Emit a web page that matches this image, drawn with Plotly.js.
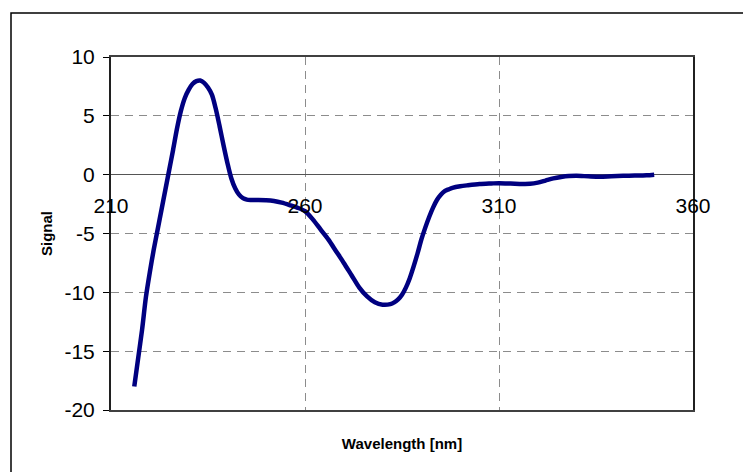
<!DOCTYPE html>
<html>
<head>
<meta charset="utf-8">
<script src="https://cdn.plot.ly/plotly-3.0.1.min.js"></script>
<style>html,body{margin:0;padding:0;background:#fff;}#chart{width:743px;height:472px;}</style>
</head>
<body>
<div id="chart"></div>
<script>
// Wavelength (nm)
const wavelength = [216,217,218,219,220,221,222,223,224,225,226,227,228,229,230,231,232,233,234,235,236,237,238,239,240,241,242,243,244,245,246,248,250,252,254,256,258,260,262,264,266,268,270,272,274,276,278,280,282,283,284,285,286,287,288,289,290,291,292,293,294,295,296,297,298,300,302,305,308,310,313,316,318,320,322,324,326,328,330,333,336,339,342,345,348,350];
// Signal
const signal = [-18.0,-15.6,-13.2,-10.4,-8.3,-6.4,-4.7,-3.0,-1.3,0.4,2.1,3.9,5.4,6.5,7.2,7.7,7.95,8.0,7.8,7.4,6.8,5.6,4.1,2.5,1.0,-0.3,-1.15,-1.7,-2.0,-2.12,-2.15,-2.15,-2.17,-2.24,-2.38,-2.58,-2.8,-3.1,-3.8,-4.65,-5.5,-6.5,-7.5,-8.55,-9.6,-10.35,-10.85,-11.05,-11.0,-10.85,-10.6,-10.2,-9.6,-8.8,-7.8,-6.7,-5.5,-4.5,-3.6,-2.8,-2.15,-1.7,-1.4,-1.25,-1.12,-0.98,-0.9,-0.8,-0.75,-0.72,-0.75,-0.79,-0.78,-0.68,-0.5,-0.32,-0.2,-0.12,-0.1,-0.14,-0.17,-0.13,-0.1,-0.08,-0.05,0.0];
const xTicks = [210,260,310,360];
const yTicks = [-20,-15,-10,-5,0,5,10];
const yTickText = ['-20','-15','-10','-5','0','5','10'];

const font = 'Arial, "Liberation Sans", sans-serif';

const traces = [{
  x: wavelength, y: signal, type: 'scatter', mode: 'lines',
  line: {color: '#000080', width: 4.5, shape: 'spline', smoothing: 0.8},
  showlegend: false, hoverinfo: 'skip'
}, {
  x: [xTicks[0], xTicks[xTicks.length-1]], y: [0, 0], xaxis: 'x2', yaxis: 'y',
  type: 'scatter', mode: 'lines', line: {width: 0, color: 'rgba(0,0,0,0)'},
  showlegend: false, hoverinfo: 'skip'
}];

const layout = {
  width: 743, height: 472,
  margin: {l: 111, r: 50, t: 57, b: 62},
  paper_bgcolor: '#fff', plot_bgcolor: '#fff',
  font: {family: font, color: '#000'},
  xaxis: {
    range: [210, 360], tickvals: xTicks, showticklabels: false,
    showgrid: true, gridcolor: '#8c8c8c', griddash: '8px,6px', gridwidth: 1,
    zeroline: false, showline: true, linecolor: '#404040', linewidth: 2, mirror: true,
    ticks: '',
    title: {text: '<b>Wavelength [nm]</b>', font: {size: 15, family: font, color: '#000'}, standoff: 27}
  },
  xaxis2: {
    range: [210, 360], tickvals: xTicks, overlaying: 'x', anchor: 'free', position: 2/3,
    showgrid: false, zeroline: false, showline: false, ticks: '',
    ticklabelstandoff: 16,
    tickfont: {size: 21, family: font, color: '#000'}
  },
  yaxis: {
    range: [-20, 10], tickvals: yTicks, ticktext: yTickText,
    showgrid: true, gridcolor: '#8c8c8c', griddash: '8px,6px', gridwidth: 1,
    zeroline: true, zerolinecolor: '#555', zerolinewidth: 1,
    showline: true, linecolor: '#202020', linewidth: 2, mirror: true,
    ticks: 'outside', ticklen: 6, tickcolor: '#000', tickwidth: 1,
    ticklabelstandoff: 4,
    tickfont: {size: 21, family: font, color: '#000'},
    title: {text: '<b>Signal</b>', font: {size: 15, family: font, color: '#000'}, standoff: 8}
  },
  shapes: [{
    type: 'rect', xref: 'paper', yref: 'paper',
    x0: -100/582, x1: 1.3, y0: -0.3, y1: 397/353,
    line: {color: '#000', width: 1.5}, fillcolor: 'rgba(0,0,0,0)', layer: 'below'
  }]
};

Plotly.newPlot('chart', traces, layout, {staticPlot: true, displayModeBar: false});
</script>
</body>
</html>
